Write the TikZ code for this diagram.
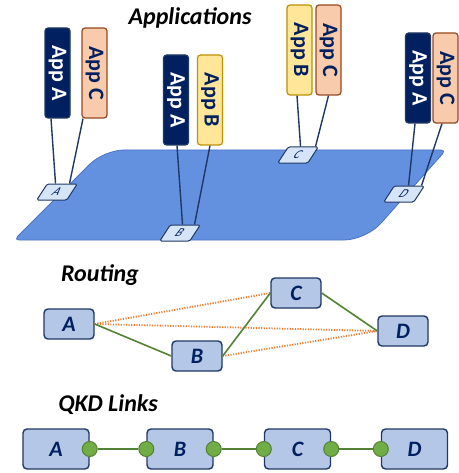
\documentclass[tikz,border=0pt]{standalone}
\usepackage{fontspec}
\setmainfont{Carlito}
\usetikzlibrary{calc}
\definecolor{navy}{RGB}{0,32,96}
\definecolor{navyline}{RGB}{31,56,100}
\definecolor{appCfill}{RGB}{248,203,173}
\definecolor{appCdraw}{RGB}{150,72,30}
\definecolor{appBfill}{RGB}{255,230,153}
\definecolor{appBdraw}{RGB}{191,144,0}
\definecolor{platfill}{RGB}{99,145,224}
\definecolor{platdraw}{RGB}{72,114,196}
\definecolor{portfill}{RGB}{214,228,247}
\definecolor{nodefill}{RGB}{180,199,231}
\definecolor{linkgreen}{RGB}{84,130,53}
\definecolor{dotgreen}{RGB}{112,173,71}
\definecolor{routeorange}{RGB}{237,125,49}
\begin{document}
\begin{tikzpicture}[x=1pt,y=-1pt,
  title/.style={font=\fontsize{24}{28}\selectfont\bfseries\itshape, text=black},
  appbox/.style={rounded corners=3pt, line width=1.2pt, minimum width=25pt, minimum height=90pt,
    inner sep=0pt, font=\fontsize{22}{26}\selectfont\bfseries},
  appA/.style={appbox, fill=navy, draw=navyline, text=white},
  appB/.style={appbox, fill=appBfill, draw=appBdraw, text=navy},
  appC/.style={appbox, fill=appCfill, draw=appCdraw, text=navy},
  port/.style={draw=navyline, fill=portfill, line width=1pt, rounded corners=1.5pt,
    xslant=0.65, minimum width=30pt, minimum height=16pt, inner sep=0pt,
    font=\fontsize{12}{13}\selectfont\itshape, text=navy},
  applink/.style={draw=navyline, line width=1.4pt},
  netnode/.style={draw=navyline, fill=nodefill, line width=1.4pt, rounded corners=4pt,
    inner sep=0pt, font=\fontsize{22}{26}\selectfont\bfseries\itshape, text=navy},
  rnode/.style={netnode, minimum width=50pt, minimum height=30pt},
  qnode/.style={netnode, minimum width=66pt, minimum height=40pt},
  route/.style={draw=linkgreen, line width=1.6pt},
  hop/.style={draw=routeorange, line width=1.8pt, dash pattern=on 1.2pt off 1.4pt},
  qdot/.style={circle, fill=dotgreen, draw=linkgreen, line width=1pt, minimum size=15pt, inner sep=0pt}
]
\useasboundingbox (0,0) rectangle (458,473);

% ---------- Applications layer ----------
\node[title] (tapp) at (190,18) {Applications};

\draw[fill=platfill, draw=platdraw, line width=0.8pt]
  (250,150) [rounded corners=5pt] -- (446,150) [rounded corners=22pt] -- (366,240)
  [rounded corners=5pt] -- (14,240) [rounded corners=20pt] -- (104,150) -- (250,150);

\node[port] (pA) at (57,192) {A};
\node[port] (pB) at (180,233) {B};
\node[port] (pC) at (298,155) {C};
\node[port] (pD) at (404,194) {D};

\node[appA] (a1) at (57.5,73) {\rotatebox{-90}{App A}};
\node[appC] (c1) at (94.5,73) {\rotatebox{-90}{App C}};
\node[appA] (a2) at (176,100) {\rotatebox{-90}{App A}};
\node[appB] (b2) at (210,100) {\rotatebox{-90}{App B}};
\node[appB] (b3) at (299.5,50) {\rotatebox{-90}{App B}};
\node[appC] (c3) at (328.5,50) {\rotatebox{-90}{App C}};
\node[appA] (a4) at (418,78) {\rotatebox{-90}{App A}};
\node[appC] (c4) at (445.5,78) {\rotatebox{-90}{App C}};

\draw[applink] ([xshift=-6.5pt]a1.south) -- ([xshift=-7pt]pA.north);
\draw[applink] ([xshift=-11.5pt]c1.south) -- ([xshift=7pt]pA.north);
\draw[applink] ([xshift=1pt]a2.south) -- ([xshift=-3pt]pB.north);
\draw[applink] (b2.south) -- ([xshift=9pt]pB.north);
\draw[applink] ([xshift=-2.5pt]b3.south) -- ([xshift=-3pt]pC.north);
\draw[applink] (c3.south) -- ([xshift=12pt]pC.north);
\draw[applink] ([xshift=-3pt]a4.south) -- ([xshift=-1pt]pD.north);
\draw[applink] ([xshift=-3.5pt]c4.south) -- ([xshift=12pt]pD.north);

% ---------- Routing layer ----------
\node[title] (troute) at (100,275) {Routing};

\node[rnode] (rA) at (69,324) {A};
\node[rnode] (rB) at (197,356) {B};
\node[rnode] (rC) at (296,293) {C};
\node[rnode] (rD) at (403,331) {D};

\draw[hop] (rA.east) -- (rC.west);
\draw[hop] (rA.east) -- (rD.west);
\draw[hop] (rB.east) -- (rD.west);
\draw[route] (rA.east) -- (rB.west);
\draw[route] (rB.east) -- (rC.west);
\draw[route] (rC.east) -- (rD.west);

% ---------- QKD link layer ----------
\node[title] (tqkd) at (108,405) {QKD Links};

\node[qnode] (qA) at (56,449) {A};
\node[qnode] (qB) at (180,449) {B};
\node[qnode] (qC) at (297.5,449) {C};
\node[qnode] (qD) at (414.5,449) {D};

\node[qdot] (dA1) at (qA.east) {};
\node[qdot] (dB0) at (qB.west) {};
\node[qdot] (dB1) at (qB.east) {};
\node[qdot] (dC0) at (qC.west) {};
\node[qdot] (dC1) at (qC.east) {};
\node[qdot] (dD0) at (qD.west) {};

\draw[route] (dA1) -- (dB0);
\draw[route] (dB1) -- (dC0);
\draw[route] (dC1) -- (dD0);
\end{tikzpicture}
\end{document}
